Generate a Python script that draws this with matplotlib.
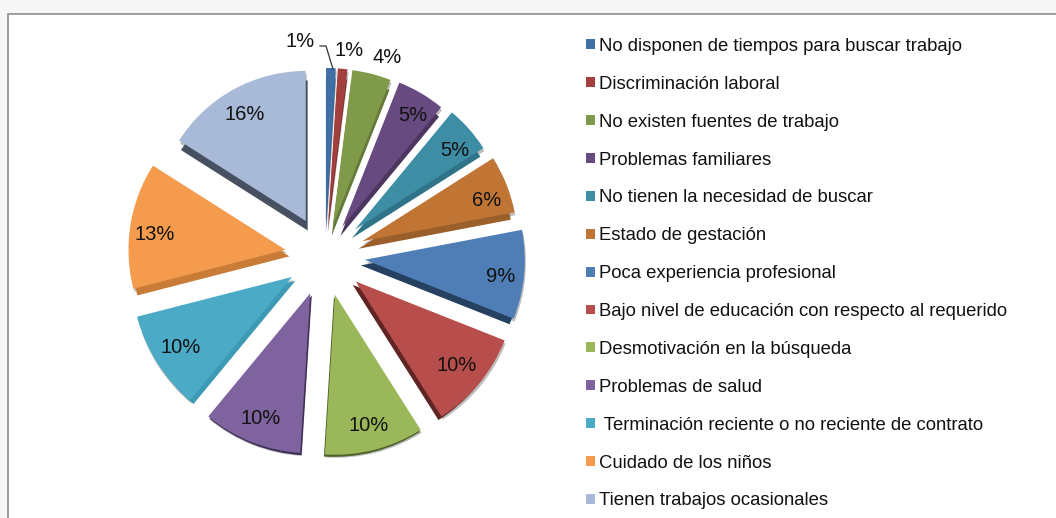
"""Exploded pie of reasons for not looking for work, with legend on the right."""
import math

import matplotlib
matplotlib.use("Agg")
import matplotlib.pyplot as plt
from matplotlib.patches import Rectangle

W, H = 1056, 518

CATEGORIES = [
    "No disponen de tiempos para buscar trabajo",
    "Discriminación laboral",
    "No existen fuentes de trabajo",
    "Problemas familiares",
    "No tienen la necesidad de buscar",
    "Estado de gestación",
    "Poca experiencia profesional",
    "Bajo nivel de educación con respecto al requerido",
    "Desmotivación en la búsqueda",
    "Problemas de salud",
    " Terminación reciente o no reciente de contrato",
    "Cuidado de los niños",
    "Tienen trabajos ocasionales",
]
VALUES = [1, 1, 4, 5, 5, 6, 9, 10, 10, 10, 10, 13, 16]

TOP_COLORS = ["#3F6FA5", "#A3403E", "#7F9A48", "#664A80", "#3D8DA5", "#C17535", "#4F7DB5",
              "#B84E4B", "#9AB85A", "#7F639F", "#4BABC6", "#F59B4E", "#A8BAD8"]
SIDE_COLORS = ["#2F5680", "#7D3230", "#64793A", "#4C3660", "#2F7389", "#9B5F2B", "#254060",
               "#5F2423", "#4D6128", "#3F2F55", "#3D9AB5", "#C87C38", "#465060"]

# the original has a 3D tilt: far slices are shorter and closer to the middle
SLICE_R = [155, 155, 157, 155, 152, 155, 160, 160, 160, 160, 160, 157, 150]
SLICE_EXPLODE = [33, 33, 31, 34, 40, 40, 40, 40, 40, 40, 39, 40, 40]

# label distance (in radii) and angle nudge (deg) from each slice's mid angle
LABEL_R = [1.18, 1.125, 1.127, 0.85, 0.835, 0.845, 0.856, 0.82, 0.845, 0.845, 0.825, 0.84, 0.82]
LABEL_DA = [-10, 1.5, 3.5, 2, 3, 3.6, 1.7, 0, 0, 0, 0, -2.2, -1]

CX, CY = 325, H - 256

plt.rcParams["font.family"] = ["Liberation Sans", "DejaVu Sans"]

fig = plt.figure(figsize=(W / 100, H / 100), dpi=100, facecolor="#F6F6F6")
ax = fig.add_axes([0, 0, 1, 1])


def draw_pie(colors, explode_by, center):
    wedges, _ = ax.pie(VALUES, colors=colors, explode=[e + explode_by for e in SLICE_EXPLODE],
                       center=center, startangle=90, counterclock=False,
                       wedgeprops=dict(linewidth=0))
    for w, r in zip(wedges, SLICE_R):
        w.set_radius(r)
    return wedges


# soft shadow, then the side faces, then the top faces
draw_pie(["#BDBDBD"] * len(VALUES), 0, (CX + 1, CY - 3))
draw_pie(SIDE_COLORS, -4, (CX, CY - 6))
wedges = draw_pie(TOP_COLORS, 0, (CX, CY))

for w, v, r, da in zip(wedges, VALUES, LABEL_R, LABEL_DA):
    mid = math.radians((w.theta1 + w.theta2) / 2 - da)
    x = w.center[0] + r * w.r * math.cos(mid)
    y = w.center[1] + r * w.r * math.sin(mid)
    ax.text(x, y, f"{v}%", ha="center", va="center", fontsize=14.5, color="#111111", zorder=5)

# leader line for the first slice
ax.plot([320, 326, 333], [H - 46, H - 46, H - 69], color="#333333", lw=0.9, zorder=5)

ax.add_patch(Rectangle((8, -10), W + 20, H - 14 + 10, facecolor="white",
                       edgecolor="#8C8C8C", linewidth=1.2, zorder=-5))

ax.legend(wedges, CATEGORIES, loc="upper left", bbox_to_anchor=(586, H - 38),
          bbox_transform=ax.transData, frameon=False, fontsize=13.3, labelcolor="#111111",
          handlelength=0.49, handleheight=0.45, handletextpad=0.22, labelspacing=1.13,
          borderpad=0, borderaxespad=0)

ax.set_aspect("equal")
ax.set_xlim(0, W)
ax.set_ylim(0, H)
ax.axis("off")

fig.savefig("out.png", dpi=100, facecolor=fig.get_facecolor())
